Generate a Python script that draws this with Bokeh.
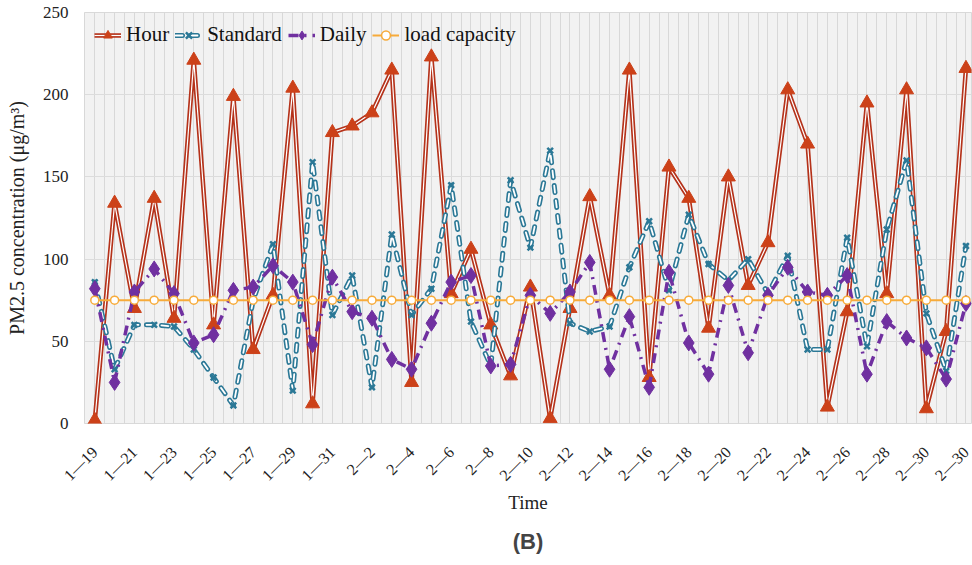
import numpy as np
from bokeh.plotting import figure
from bokeh.models import Range1d, FixedTicker, Legend, LegendItem, Title
from bokeh.embed import file_html
from bokeh.resources import INLINE

# ---------------- data ----------------
x_labels = ["1—19", "1—21", "1—23", "1—25", "1—27", "1—29", "1—31",
            "2—2", "2—4", "2—6", "2—8", "2—10", "2—12", "2—14", "2—16",
            "2—18", "2—20", "2—22", "2—24", "2—26", "2—28", "2—30", "2—30"]

hour = [2, 134, 70, 137, 64, 221, 60, 199, 45, 78, 204,
        12, 177, 181, 189, 215, 25, 223, 79, 106, 60, 29,
        83, 3, 70, 138, 78, 215, 28, 156, 137, 58, 150,
        84, 110, 203, 170, 10, 68, 195, 79, 203, 9, 56, 216]

standard = [86, 33, 60, 60, 59, 45, 28, 11, 75, 109, 20,
            159, 66, 90, 22, 115, 66, 82, 145, 62, 35, 148,
            107, 166, 61, 56, 59, 95, 123, 81, 127, 97, 87,
            100, 79, 102, 45, 45, 113, 47, 118, 160, 67, 32, 108]

daily = [82, 25, 80, 94, 79, 49, 54, 81, 83, 96, 86,
         48, 89, 68, 64, 39, 33, 61, 86, 90, 35, 36,
         78, 67, 80, 98, 33, 65, 22, 92, 49, 30, 84,
         43, 78, 95, 80, 78, 90, 30, 62, 52, 46, 27, 73]

load_capacity = [75, 75, 75, 75, 75, 75, 75, 75, 75, 75, 75,
                 75, 75, 75, 75, 75, 75, 75, 75, 75, 75, 75,
                 75, 75, 75, 75, 75, 75, 75, 75, 75, 75, 75,
                 75, 75, 75, 75, 75, 75, 75, 75, 75, 75, 75, 75]

x = list(range(len(hour)))

SERIF = "Liberation Serif"

p = figure(width=972, height=565,
           x_range=Range1d(-0.52, 44.28), y_range=Range1d(0, 250),
           output_backend="svg", toolbar_location=None,
           min_border_left=84, min_border_right=1, min_border_top=12,
           min_border_bottom=142)

p.background_fill_color = "#f2f2f2"
p.border_fill_color = "white"
p.outline_line_color = "#d9d9d9"

# grids
p.ygrid.ticker = FixedTicker(ticks=[0, 50, 100, 150, 200, 250])
p.ygrid.grid_line_color = "#dcdcdc"
p.xgrid.ticker = FixedTicker(ticks=list(np.arange(-0.5, 45, 0.5)))
p.xgrid.grid_line_color = "#d8d8d8"
p.xgrid.grid_line_width = 1

# axes
p.xaxis.ticker = FixedTicker(ticks=[2 * i for i in range(len(x_labels))])
p.xaxis.major_label_overrides = {2 * i: lab for i, lab in enumerate(x_labels)}
p.xaxis.major_label_orientation = np.pi / 4
p.yaxis.ticker = FixedTicker(ticks=[0, 50, 100, 150, 200, 250])
for ax in (p.xaxis[0], p.yaxis[0]):
    ax.axis_line_color = None
    ax.major_tick_line_color = None
    ax.minor_tick_line_color = None
    ax.major_label_text_font = SERIF
    ax.major_label_text_color = "#222222"
    ax.axis_label_text_font = SERIF
    ax.axis_label_text_font_style = "normal"
    ax.axis_label_text_color = "#222222"
p.xaxis.major_label_text_font_size = "16px"
p.yaxis.major_label_text_font_size = "17px"
p.xaxis.major_label_standoff = 20
p.yaxis.major_label_standoff = 10
p.xaxis.axis_label = "Time"
p.yaxis.axis_label = "PM2.5 concentration (μg/m³)"
p.xaxis.axis_label_text_font_size = "19px"
p.yaxis.axis_label_text_font_size = "20px"
p.xaxis.axis_label_standoff = -1
p.yaxis.axis_label_standoff = 12

# ---- series ----
RED = "#b5321a"
RED_M = "#cc4119"
TEAL = "#2b7896"
PURPLE = "#7030a0"
ORANGE = "#f7ab3a"

h1 = p.line(x, hour, line_color=RED, line_width=4.5)
h2 = p.line(x, hour, line_color="white", line_width=1.2)
h3 = p.scatter(x, hour, marker="triangle", size=14, fill_color=RED_M, line_color=RED_M)

s1 = p.line(x, standard, line_color=TEAL, line_width=5, line_dash="7 8", line_cap="round")
s2 = p.line(x, standard, line_color="white", line_width=1.8, line_dash="7 8", line_cap="round")
s3 = p.scatter(x, standard, marker="x", size=8, line_color=TEAL, line_width=2.5)

d1 = p.line(x, daily, line_color=PURPLE, line_width=3.5, line_dash="10 6 2 6")
d2 = p.scatter(x, daily, marker="diamond", size=16, fill_color=PURPLE, line_color=PURPLE)

l1 = p.line(x, load_capacity, line_color=ORANGE, line_width=2)
l2 = p.scatter(x, load_capacity, marker="circle", size=8, fill_color="white",
               line_color=ORANGE, line_width=1.5)

legend = Legend(items=[
    LegendItem(label="Hour", renderers=[h1, h2, h3]),
    LegendItem(label="Standard", renderers=[s1, s2, s3]),
    LegendItem(label="Daily", renderers=[d1, d2]),
    LegendItem(label="load capacity", renderers=[l1, l2]),
], orientation="horizontal", location="top_left")
legend.background_fill_alpha = 0
legend.border_line_color = None
legend.label_text_font = SERIF
legend.label_text_font_size = "21px"
legend.label_text_color = "#111111"
legend.glyph_width = 27
legend.glyph_height = 22
legend.label_standoff = 5
legend.spacing = 6
legend.padding = 7
legend.margin = 10
p.add_layout(legend)

title_b = Title(text="(B)", align="center", text_font="Liberation Sans",
                text_font_size="22px", text_font_style="bold", standoff=23)
p.add_layout(title_b, "below")

open("out.html", "w").write(file_html(p, INLINE))
